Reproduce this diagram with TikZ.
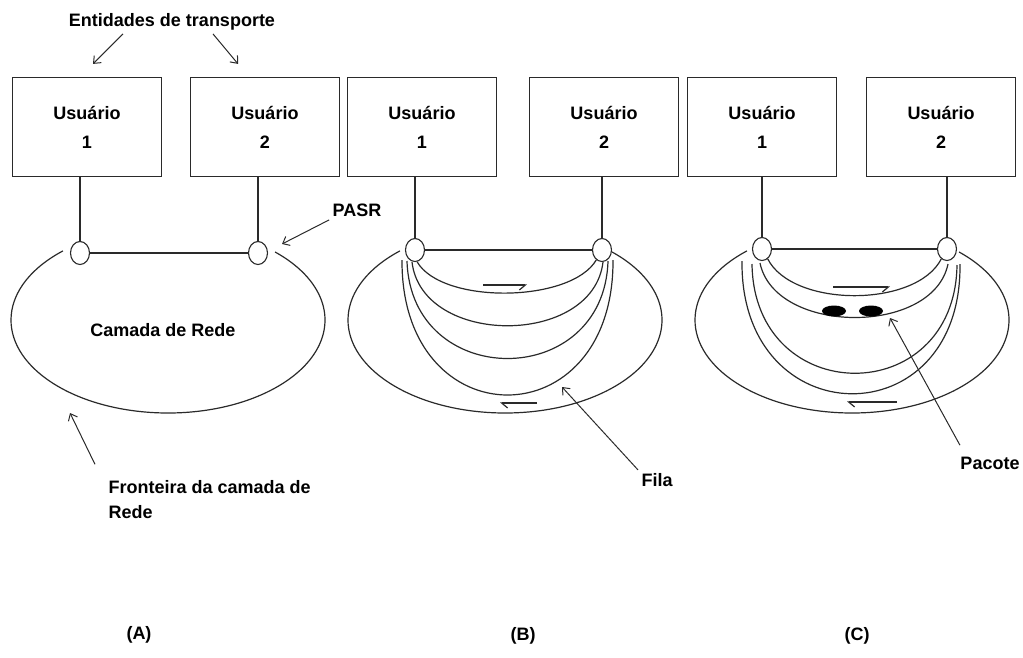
\documentclass[tikz,border=0pt]{standalone}
\usepackage{fontspec}
\setmainfont{Liberation Sans}
\usepackage{xcolor}
\usepackage{tikz}
\usetikzlibrary{positioning, arrows.meta, shapes.geometric}
\definecolor{inkgray}{HTML}{2A2A2A}

\tikzset{
  userbox/.style={draw=inkgray, line width=1.2pt, minimum width=149pt, minimum height=99pt,
                  align=center, font=\bfseries\fontsize{18}{29}\selectfont},
  port/.style={draw=inkgray, ellipse, line width=1.1pt, fill=white,
               minimum width=19pt, minimum height=23pt, inner sep=0pt},
  packet/.style={fill=black, ellipse, minimum width=24pt, minimum height=11pt, inner sep=0pt},
  lbl/.style={font=\bfseries\fontsize{18}{25}\selectfont, text=black},
  wire/.style={draw=inkgray, line width=1.2pt},
  callout/.style={draw=inkgray, line width=1pt, -{Straight Barb[length=6pt, width=10pt]}},
  flowR/.style={wire, -{Straight Barb[right, length=6pt, width=10pt]}},
  flowL/.style={wire, -{Straight Barb[left, length=6pt, width=10pt]}}
}

\begin{document}
\begin{tikzpicture}[x=1pt, y=-1pt]
  \useasboundingbox (0,0) rectangle (1023,657);
  % the three panels: users, access points and the network layer
  \foreach \p/\ctr/\boxL/\boxR/\portL/\portR/\portY in {A/168/87/265/80/258/253, B/505/422/604/415/602/250, C/852/762/941/762/947/249}{
    \node[userbox] (u\p1) at (\boxL,127) {Usuário\\1};
    \node[userbox] (u\p2) at (\boxR,127) {Usuário\\2};
    \node[port] (s\p1) at (\portL,\portY) {};
    \node[port] (s\p2) at (\portR,\portY) {};
    \draw[wire] (s\p1 |- u\p1.south) -- (s\p1.north);
    \draw[wire] (s\p2 |- u\p2.south) -- (s\p2.north);
    \draw[wire] (s\p1.east) -- (s\p2.west);
    \draw[wire] (\ctr,320) ++(228:157 and 93) arc[start angle=228, end angle=-47, x radius=157, y radius=93];
  }

  % queues (B)
  \draw[wire] (sB1.-80) .. controls +(25,43) and +(-25,43) .. (sB2.-120);
  \draw[wire] ([shift={(-3,12)}]sB1.center) .. controls +(10,85) and +(-10,85) .. ([shift={(1,12)}]sB2.center);
  \draw[wire] ([shift={(-8,11)}]sB1.center) .. controls +(4,130) and +(-4,130) .. ([shift={(6,11)}]sB2.center);
  \draw[wire] ([shift={(-13,10)}]sB1.center) .. controls +(-1,180) and +(1,180) .. ([shift={(11,10)}]sB2.center);
  \draw[flowR] (483,285) -- (527,285);
  \draw[flowL] (537,403) -- (500,403);

  % queues with packets (C)
  \draw[wire] (sC1.-60) .. controls +(25,49) and +(-25,49) .. (sC2.-120);
  \draw[wire] ([shift={(-2,14)}]sC1.center) .. controls +(15,72) and +(-15,72) .. ([shift={(1,15)}]sC2.center);
  \draw[wire] ([shift={(-10,15)}]sC1.center) .. controls +(2,145) and +(-2,145) .. ([shift={(10,16)}]sC2.center);
  \draw[wire] ([shift={(-20,12)}]sC1.center) .. controls +(-2,175) and +(2,175) .. ([shift={(13,15)}]sC2.center);
  \node[packet] (pk1) at (834,311) {};
  \node[packet] (pk2) at (871,311) {};
  \draw[flowR] (833,287) -- (890,287);
  \draw[flowL] (897,402) -- (847,402);

  % labels
  \node[lbl] (ent) at (172,22) {Entidades de transporte};
  \draw[callout] ([xshift=-49pt]ent.south) -- ([shift={(6,-13)}]uA1.north);
  \draw[callout] ([xshift=41pt]ent.south) -- ([shift={(-27,-13)}]uA2.north);

  \node[lbl] (pasr) at (357,210) {PASR};
  \draw[callout] (pasr.south west) -- ([shift={(24,-9)}]sA2.center);

  \node[lbl] (camada) at (163,330) {Camada de Rede};

  \coordinate (rimA) at (70,413);
  \node[lbl, anchor=west, align=left] (fronteira) at (105,500) {Fronteira da camada de\\Rede};
  \draw[callout] ([shift={(-10,-13)}]fronteira.north west) -- (rimA);

  \coordinate (queueB) at (562,387);
  \node[lbl] (fila) at (657,480) {Fila};
  \draw[callout] (fila.north west) -- (queueB);

  \coordinate (queueC) at (890,318);
  \node[lbl] (pacote) at (990,463) {Pacote};
  \draw[callout] ([shift={(3,-8)}]pacote.north west) -- (queueC);

  \node[lbl] (capA) at (139,635) {(A)};
  \node[lbl] (capB) at (523,636) {(B)};
  \node[lbl] (capC) at (857,636) {(C)};
\end{tikzpicture}
\end{document}
